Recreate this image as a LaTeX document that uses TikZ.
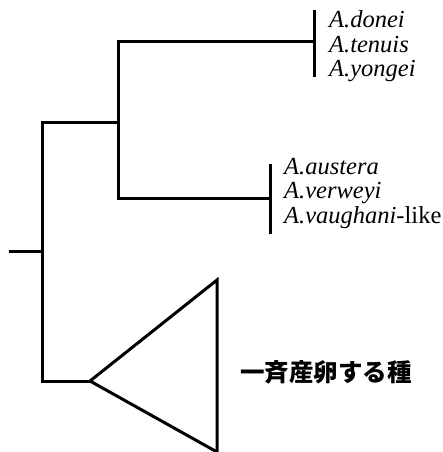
\documentclass[tikz,border=0pt]{standalone}
\usepackage{fontspec}
\setmainfont{Liberation Serif}
\newfontfamily\cjk{Noto Sans CJK JP}
\begin{document}
\begin{tikzpicture}[x=1pt,y=-1pt,
  br/.style={line width=3pt,line cap=rect},
  sp/.style={anchor=base west,inner sep=0pt,font=\fontsize{24.5}{24.5}\selectfont\itshape}]
\useasboundingbox (0,0) rectangle (443,452);
% coordinates
\coordinate (r0) at (10,251);
\coordinate (r) at (42,251);
\coordinate (rt) at (42,122);
\coordinate (rb) at (42,381);
\coordinate (a) at (118,122);
\coordinate (at) at (118,42);
\coordinate (ab) at (118,198);
\coordinate (c1) at (314,42);
\coordinate (c1t) at (314,12);
\coordinate (c1b) at (314,75);
\coordinate (c2) at (270,198);
\coordinate (c2t) at (270,165);
\coordinate (c2b) at (270,232);
\coordinate (apex) at (90,381);
\coordinate (tt) at (217,280);
\coordinate (tb) at (217,452);
% tree
\draw[br] (r0) -- (r);
\draw[br] (rt) -- (rb);
\draw[br] (rt) -- (a);
\draw[br] (at) -- (ab);
\draw[br] (at) -- (c1);
\draw[br] (c1t) -- (c1b);
\draw[br] (ab) -- (c2);
\draw[br] (c2t) -- (c2b);
\draw[br] (rb) -- (apex);
\draw[line width=3pt,line join=miter] (apex) -- (tt) -- (tb) -- cycle;
% labels
\node[sp] (n1) at (329,28) {A.donei};
\node[sp] (n2) at (329,52.5) {A.tenuis};
\node[sp] (n3) at (329,77) {A.yongei};
\node[sp] (n4) at (284,174) {A.austera};
\node[sp] (n5) at (284,198.5) {A.verweyi};
\node[sp] (n6) at (284,223) {A.vaughani\upshape -like};
\node[anchor=west,inner sep=0pt,font=\cjk\bfseries\fontsize{24.5}{24.5}\selectfont] (jp) at (240,372.5) {一斉産卵する種};
\end{tikzpicture}
\end{document}
